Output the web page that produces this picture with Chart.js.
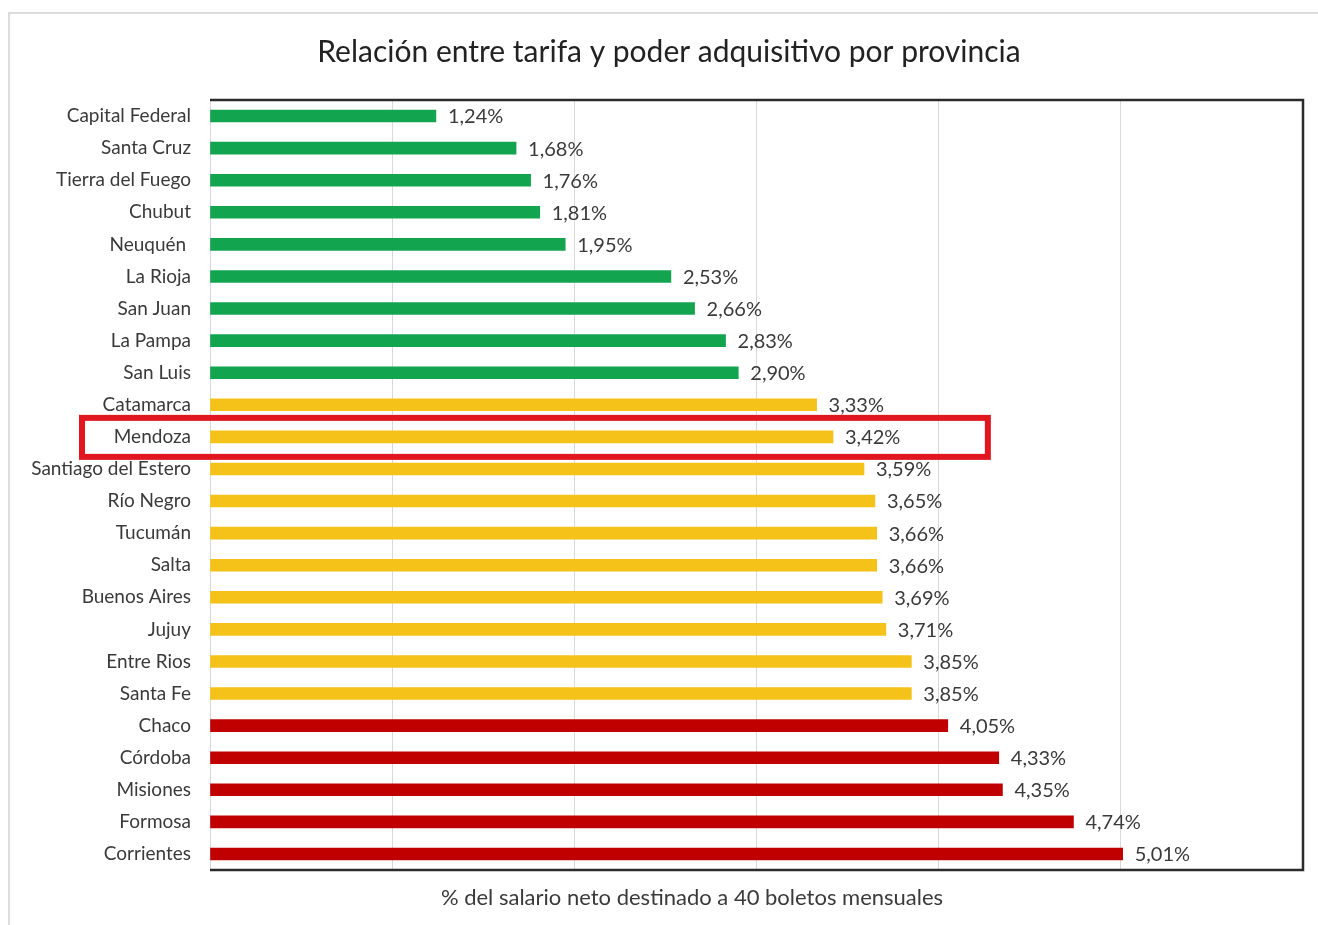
<!DOCTYPE html>
<html>
<head>
<meta charset="utf-8">
<script src="https://cdn.jsdelivr.net/npm/chart.js@4"></script>
<style>
  html, body { margin: 0; padding: 0; background: #fff; }
  #frame { position: absolute; left: 8px; top: 12px; width: 1310px; height: 913px; border-left: 2px solid #dcdcdc; border-top: 2px solid #dcdcdc; box-sizing: border-box; }
  #wrap { position: absolute; left: 0; top: 0; width: 1318px; height: 925px; }
</style>
</head>
<body>
<div id="frame"></div>
<div id="wrap"><canvas id="chart" width="1318" height="925"></canvas></div>
<script>
// provincias, de menor a mayor
const provincias = ['Capital Federal', 'Santa Cruz', 'Tierra del Fuego', 'Chubut', 'Neuquén ', 'La Rioja', 'San Juan', 'La Pampa', 'San Luis',
  'Catamarca', 'Mendoza', 'Santiago del Estero', 'Río Negro', 'Tucumán', 'Salta', 'Buenos Aires', 'Jujuy', 'Entre Rios', 'Santa Fe',
  'Chaco', 'Córdoba', 'Misiones', 'Formosa', 'Corrientes'];
const porcentajes = [1.24, 1.68, 1.76, 1.81, 1.95, 2.53, 2.66, 2.83, 2.90,
  3.33, 3.42, 3.59, 3.65, 3.66, 3.66, 3.69, 3.71, 3.85, 3.85,
  4.05, 4.33, 4.35, 4.74, 5.01];
const destacada = 'Mendoza';
const titulo = 'Relación entre tarifa y poder adquisitivo por provincia';
const tituloX = '% del salario neto destinado a 40 boletos mensuales';

function colorFor(v) {
  if (v < 3) return '#12a44f';
  if (v < 4) return '#f5c21a';
  return '#c00000';
}
const fmt = v => v.toFixed(2).replace('.', ',') + '%';
const FONT = 'Lato, "Open Sans", sans-serif';

const extras = {
  id: 'extras',
  afterDatasetsDraw(chart) {
    const ctx = chart.ctx;
    const meta = chart.getDatasetMeta(0);
    ctx.save();
    ctx.font = '20px ' + FONT;
    ctx.fillStyle = '#3a3a3a';
    ctx.textAlign = 'left';
    ctx.textBaseline = 'middle';
    meta.data.forEach((bar, i) => {
      ctx.fillText(fmt(porcentajes[i]), bar.x + 12, bar.y + 1);
    });
    ctx.restore();
  },
  afterDraw(chart) {
    const ctx = chart.ctx;
    const a = chart.chartArea;
    const x = chart.scales.x, y = chart.scales.y;
    ctx.save();
    // marco del área de trazado
    ctx.strokeStyle = '#2b2b2b';
    ctx.lineWidth = 2.5;
    ctx.beginPath();
    ctx.moveTo(a.left, a.top);
    ctx.lineTo(a.right, a.top);
    ctx.lineTo(a.right, a.bottom);
    ctx.lineTo(a.left, a.bottom);
    ctx.stroke();
    // títulos
    ctx.textAlign = 'center';
    ctx.textBaseline = 'middle';
    ctx.fillStyle = '#222';
    ctx.font = '30px ' + FONT;
    ctx.fillText(titulo, 669, 52);
    ctx.font = '22px ' + FONT;
    ctx.fillStyle = '#3a3a3a';
    ctx.fillText(tituloX, 692, 898);
    // recuadro rojo
    const yc = y.getPixelForValue(provincias.indexOf(destacada));
    ctx.strokeStyle = '#e2161f';
    ctx.lineWidth = 6;
    ctx.strokeRect(82, yc - 19, x.getPixelForValue(4.27) - 82, 39);
    ctx.restore();
  }
};

new Chart(document.getElementById('chart'), {
  type: 'bar',
  data: {
    labels: provincias,
    datasets: [{
      data: porcentajes,
      backgroundColor: porcentajes.map(colorFor),
      barThickness: 12
    }]
  },
  options: {
    indexAxis: 'y',
    responsive: false,
    animation: false,
    layout: { padding: { left: 0, right: 15, top: 100, bottom: 55 } },
    plugins: {
      legend: { display: false },
      tooltip: { enabled: false },
      title: { display: false }
    },
    scales: {
      x: {
        min: 0, max: 6,
        ticks: { display: false, stepSize: 1 },
        grid: { color: '#d9d9d9', lineWidth: 1, drawTicks: false },
        border: { display: false }
      },
      y: {
        afterFit(s) { s.width = 210; },
        ticks: { color: '#3a3a3a', font: { family: FONT, size: 19 }, padding: 19, autoSkip: false },
        grid: { display: false, drawTicks: false },
        border: { color: '#d9d9d9', width: 1 }
      }
    }
  },
  plugins: [extras]
});
</script>
</body>
</html>
